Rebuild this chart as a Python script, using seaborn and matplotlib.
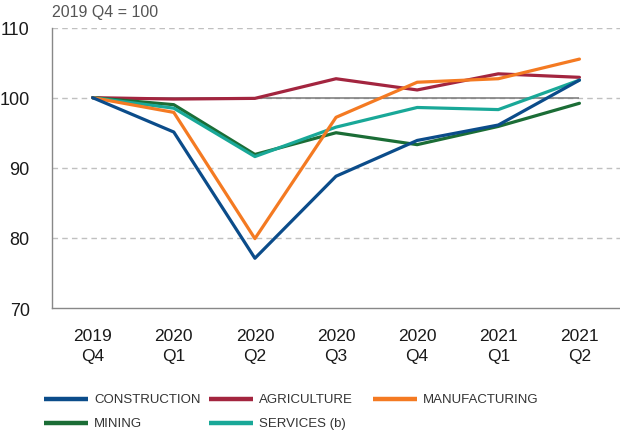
import matplotlib
matplotlib.use("Agg")
import matplotlib.pyplot as plt
import seaborn as sns
import pandas as pd
from matplotlib.lines import Line2D

quarters = ["2019\nQ4", "2020\nQ1", "2020\nQ2", "2020\nQ3", "2020\nQ4", "2021\nQ1", "2021\nQ2"]
construction = [100, 95.1, 77.1, 88.8, 93.9, 96.1, 102.5]
agriculture = [100, 99.8, 99.9, 102.7, 101.1, 103.4, 102.9]
manufacturing = [100, 97.9, 79.9, 97.2, 102.2, 102.7, 105.5]
mining = [100, 99.0, 91.9, 95.0, 93.3, 95.9, 99.2]
services = [100, 98.5, 91.6, 95.8, 98.6, 98.3, 102.5]

series_names = ["CONSTRUCTION", "AGRICULTURE", "MANUFACTURING", "MINING", "SERVICES (b)"]
series_vals = [construction, agriculture, manufacturing, mining, services]
colors = {"CONSTRUCTION": "#0b4c8a", "AGRICULTURE": "#a3253f", "MANUFACTURING": "#f47a22",
          "MINING": "#1b6d36", "SERVICES (b)": "#19a898"}

rows = []
for name, vals in zip(series_names, series_vals):
    for i, v in enumerate(vals):
        rows.append({"x": i, "value": v, "series": name})
df = pd.DataFrame(rows)

sns.set_style("white")
plt.rcParams['font.family'] = ['Liberation Sans', 'DejaVu Sans']

W, H = 620, 439
fig = plt.figure(figsize=(6.2, 4.39), dpi=100)
ax = fig.add_axes([0.084, 0.296, 0.916, 0.639])

for y in [80, 90, 100, 110]:
    ax.axhline(y, color="#c0c0c0", lw=1, ls=(0, (4, 3)), zorder=0)
ax.hlines(100, 0, len(quarters) - 1, color="#777777", lw=1.1, zorder=1)

draw_order = ["AGRICULTURE", "MINING", "SERVICES (b)", "MANUFACTURING", "CONSTRUCTION"]
sns.lineplot(data=df, x="x", y="value", hue="series", hue_order=draw_order,
             palette=colors, linewidth=2.3, ax=ax, legend=False, zorder=3)

ax.set_xlim(-0.5, len(quarters) - 0.5)
ax.set_ylim(70, 110)
ax.set_yticks([70, 80, 90, 100, 110])
ax.set_yticklabels(["70", "80", "90", "100", "110"], fontsize=13, color="#1a1a1a")
ax.set_xticks(range(len(quarters)))
ax.set_xticklabels(quarters, fontsize=12.5, color="#1a1a1a", linespacing=1.45)
ax.set_xticks([i + 0.5 for i in range(len(quarters) - 1)], minor=True)
ax.tick_params(axis="x", which="major", length=0, pad=14)
ax.tick_params(axis="x", which="minor", direction="in", length=5, color="#888888", width=1)
ax.tick_params(axis="y", length=0, pad=16)
ax.set_xlabel("")
ax.set_ylabel("")
for s in ["top", "right"]:
    ax.spines[s].set_visible(False)
for s in ["left", "bottom"]:
    ax.spines[s].set_color("#888888")
    ax.spines[s].set_linewidth(1)

fig.text(52 / W, 1 - 13 / H, "2019 Q4 = 100", fontsize=11.5, color="#555555", va="center", ha="left")

# legend placed manually (3 columns, 2 rows)
leg_items = [("CONSTRUCTION", 44, 400), ("AGRICULTURE", 209, 400), ("MANUFACTURING", 373, 400),
             ("MINING", 44, 424), ("SERVICES (b)", 209, 424)]
for name, px, py in leg_items:
    fig.add_artist(Line2D([px / W, (px + 44) / W], [1 - py / H, 1 - py / H],
                          color=colors[name], lw=3.2, solid_capstyle="butt",
                          transform=fig.transFigure))
    fig.text((px + 50) / W, 1 - py / H, name, fontsize=9.5, color="#333333",
             va="center", ha="left")

fig.savefig("out.png", dpi=100)
